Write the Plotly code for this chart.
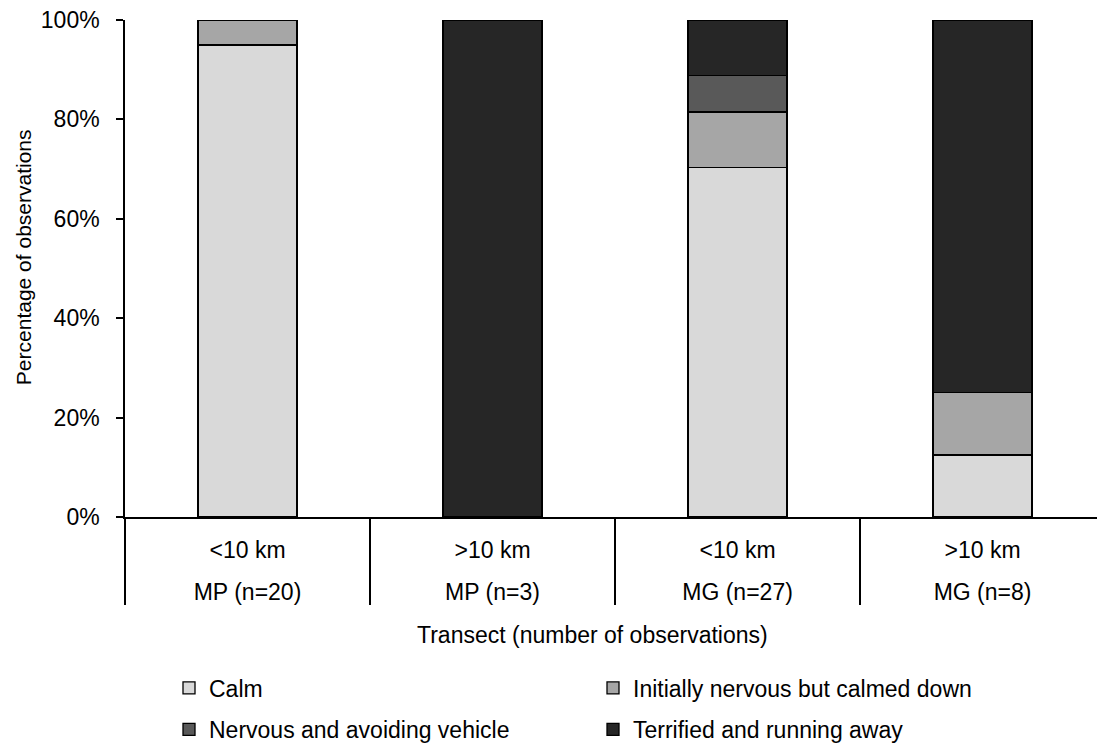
import plotly.graph_objects as go

# Transects and their distance class
transects = ["MP (n=20)", "MP (n=3)", "MG (n=27)", "MG (n=8)"]
distance = ["<10 km", ">10 km", "<10 km", ">10 km"]

# Percentage of observations per behaviour class
calm = [95.0, 0.0, 70.37, 12.5]
initially_nervous = [5.0, 0.0, 11.11, 12.5]
nervous_avoiding = [0.0, 0.0, 7.41, 0.0]
terrified = [0.0, 100.0, 11.11, 75.0]

series = [
    ("Calm", calm, "#d9d9d9", "legend"),
    ("Initially nervous but calmed down", initially_nervous, "#a6a6a6", "legend"),
    ("Nervous and avoiding vehicle", nervous_avoiding, "#595959", "legend2"),
    ("Terrified and running away", terrified, "#262626", "legend2"),
]

FONT = "Arial, Liberation Sans, sans-serif"
W, H = 1097, 751
ML, MR, MT, MB = 125, 0, 20, 228
pw = W - ML - MR
ph = H - MT - MB


def px_x(p):
    return (p - ML) / pw


def px_y(p):
    return (H - MB - p) / ph


fig = go.Figure()
for name, vals, color, lg in series:
    fig.add_trace(go.Bar(
        x=transects,
        y=[v / 100 for v in vals],
        name=name,
        marker=dict(color=color, line=dict(color="#000000", width=1.3)),
        width=0.404,
        legend=lg,
    ))

# secondary axis carrying the distance-class row of labels
fig.add_trace(go.Scatter(x=[0, 1, 2, 3], y=[None] * 4, xaxis="x2", showlegend=False,
                         hoverinfo="skip"))

xr = [-0.5, 3.467]
fig.update_layout(
    width=W, height=H,
    margin=dict(l=ML, r=MR, t=MT, b=MB),
    barmode="stack",
    plot_bgcolor="white",
    paper_bgcolor="white",
    font=dict(family=FONT, size=23, color="#000000"),
    xaxis=dict(
        type="category",
        range=xr,
        tickson="boundaries",
        ticks="outside",
        ticklen=86,
        tickwidth=1.5,
        tickcolor="#000000",
        showline=True,
        linecolor="#000000",
        linewidth=1.5,
        showgrid=False,
        ticklabelstandoff=54,
        tickfont=dict(size=23),
    ),
    xaxis2=dict(
        overlaying="x",
        anchor="y",
        side="bottom",
        range=xr,
        tickmode="array",
        tickvals=[0, 1, 2, 3],
        ticktext=distance,
        ticks="",
        showline=False,
        showgrid=False,
        zeroline=False,
        ticklabelstandoff=17,
        tickfont=dict(size=23),
    ),
    yaxis=dict(
        range=[0, 1],
        tickvals=[0, 0.2, 0.4, 0.6, 0.8, 1.0],
        tickformat=".0%",
        ticks="outside",
        ticklen=7,
        tickwidth=1.5,
        tickcolor="#000000",
        showline=True,
        linecolor="#000000",
        linewidth=1.5,
        showgrid=False,
        zeroline=False,
        ticklabelstandoff=12,
        tickfont=dict(size=23),
    ),
    legend=dict(
        orientation="h",
        traceorder="normal",
        x=px_x(169), xanchor="left",
        y=px_y(696), yanchor="middle",
        entrywidth=379, entrywidthmode="pixels",
        font=dict(size=23),
        itemclick=False,
    ),
    legend2=dict(
        orientation="h",
        traceorder="normal",
        x=px_x(169), xanchor="left",
        y=px_y(738), yanchor="middle",
        entrywidth=379, entrywidthmode="pixels",
        font=dict(size=23),
        itemclick=False,
    ),
    annotations=[
        dict(text="Transect (number of observations)", xref="paper", yref="paper",
             x=px_x(592), y=px_y(642), xanchor="center", yanchor="middle",
             showarrow=False, font=dict(size=23)),
        dict(text="Percentage of observations", xref="paper", yref="paper",
             x=px_x(23), y=px_y(260), xanchor="center", yanchor="middle",
             textangle=-90, showarrow=False, font=dict(size=21)),
    ],
)

fig.write_html("out.html")
